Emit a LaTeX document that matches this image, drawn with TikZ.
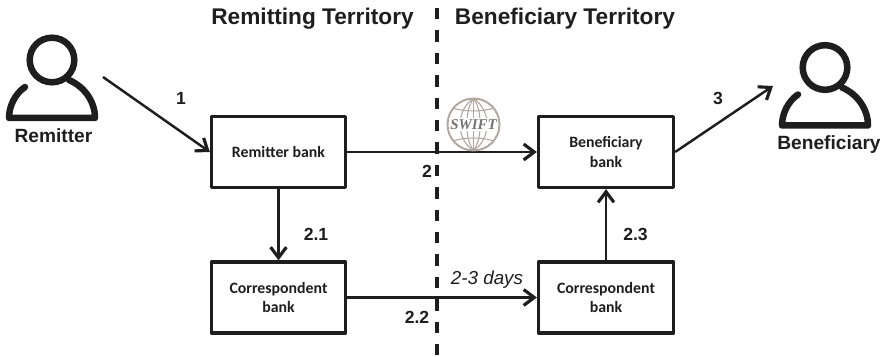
\documentclass[tikz,border=0pt]{standalone}
\usepackage{fontspec}
\setmainfont{Liberation Sans}
\newfontfamily\bankfont{Carlito}
\newfontfamily\logofont{Liberation Serif}
\usetikzlibrary{arrows.meta}

\definecolor{inkgray}{HTML}{1E1E1E}
\definecolor{swiftgray}{HTML}{AFA79E}

\tikzset{
  bank/.style={draw=inkgray, line width=1.9pt, line join=round, minimum height=1.42cm, align=center, text=inkgray, font=\bankfont\bfseries\fontsize{9}{11}\selectfont},
  heading/.style={text=inkgray, font=\bfseries\fontsize{12.9}{15}\selectfont},
  actor/.style={text=inkgray, font=\bfseries\fontsize{10.9}{13}\selectfont},
  flowlabel/.style={text=inkgray, font=\bfseries\fontsize{10}{12}\selectfont},
  flow/.style={draw=inkgray, -{Straight Barb[length=6pt,width=9pt,line width=1.8pt]}, line width=1.4pt},
  globe/.style={color=swiftgray, line width=0.6pt},
  person/.pic={
    \draw[inkgray, line width=3.7pt] (0,0) circle (22.3);
    \draw[inkgray, line width=3.7pt, line cap=round, line join=round] (-27,27) .. controls (-37,34) and (-43,46) .. (-43,58) -- (43,58) .. controls (43,42) and (33,27) .. (17,20);
  }
}

\begin{document}
\begin{tikzpicture}[x=0.02cm,y=-0.02cm]
  \useasboundingbox (0,0) rectangle (885,357);

  \draw[inkgray, line width=2.2pt, dash pattern=on 6.5pt off 6.25pt] (437,8) -- (437,357);

  \node[heading] (remittingtitle) at (312.5,19) {Remitting Territory};
  \node[heading] (beneficiarytitle) at (565,19) {Beneficiary Territory};

  \pic at (52,60) {person};
  \pic at (825,67.5) {person};
  \node[actor] (remitter) at (53.5,136) {Remitter};
  \node[actor] (beneficiary) at (829,145) {Beneficiary};

  \coordinate (remitterfoot) at (103,77);
  \coordinate (beneficiaryfoot) at (773,86);

  \node[bank, minimum width=2.68cm] (remitterbank) at (278.5,152) {Remitter bank};
  \node[bank, minimum width=2.7cm] (beneficiarybank) at (606,152) {Beneficiary\\bank};
  \node[bank, minimum width=2.68cm] (corrleft) at (278.5,297.5) {Correspondent\\bank};
  \node[bank, minimum width=2.7cm] (corrright) at (606,297.5) {Correspondent\\bank};

  \draw[flow] (remitterfoot) -- (remitterbank.west);
  \draw[flow] (remitterbank.east) -- (beneficiarybank.west);
  \draw[flow] (beneficiarybank.east) -- (beneficiaryfoot);
  \draw[flow] (remitterbank.south) -- (corrleft.north);
  \draw[flow] (corrleft.east) -- (corrright.west);
  \draw[flow] (corrright.north) -- (beneficiarybank.south);

  \node[flowlabel] (labela) at (181,98) {1};
  \node[flowlabel] (labelb) at (427,171) {2};
  \node[flowlabel] (labelc) at (316,234) {2.1};
  \node[flowlabel] (labeld) at (417,317) {2.2};
  \node[flowlabel] (labele) at (635.5,234) {2.3};
  \node[flowlabel] (labelf) at (718,98) {3};
  \node[text=inkgray, font=\itshape\fontsize{10.7}{12}\selectfont] (days) at (487,280) {2-3 days};

  \draw[globe, line width=1.1pt] (473.5,124.5) circle (26);
  \draw[globe] (473.5,98.5) -- (473.5,150.5);
  \foreach \bend in {9,18}{
    \draw[globe] (473.5,98.5) .. controls (473.5-\bend,110) and (473.5-\bend,139) .. (473.5,150.5);
    \draw[globe] (473.5,98.5) .. controls (473.5+\bend,110) and (473.5+\bend,139) .. (473.5,150.5);
  }
  \draw[globe] (453,108) .. controls (465,112) and (482,112) .. (494,108);
  \draw[globe] (448,120) -- (499,120);
  \draw[globe] (448,130) -- (499,130);
  \draw[globe] (453,141) .. controls (465,137) and (482,137) .. (494,141);
  \node[color=gray!90!black, fill=white, font=\logofont\bfseries\itshape\fontsize{8.5}{9}\selectfont, inner sep=0.6pt] (swift) at (473.5,124.5) {SWIFT};
\end{tikzpicture}
\end{document}
